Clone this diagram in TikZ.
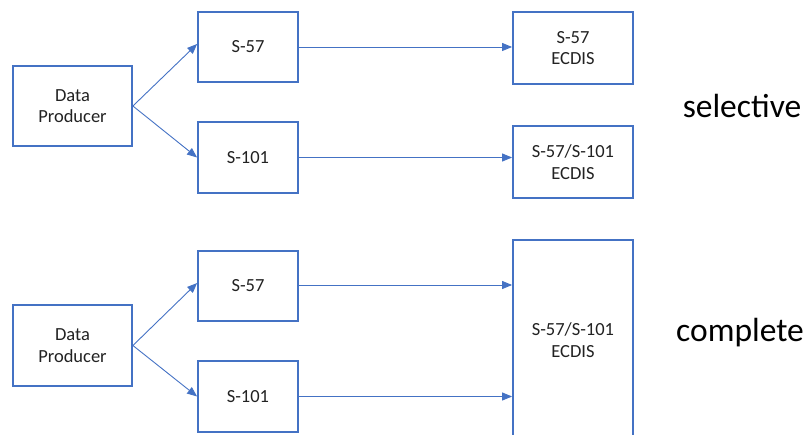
\documentclass[tikz,border=0pt]{standalone}
\usepackage{fontspec}
\setmainfont{Carlito}
\usetikzlibrary{arrows.meta}
\definecolor{obl}{HTML}{4472C4}
\definecolor{txt}{HTML}{222222}
\begin{document}
\begin{tikzpicture}[x=1pt,y=-1pt,
  box/.style={draw=obl,line width=1.8pt,fill=white,align=center,inner sep=0pt,
    text=txt,font=\fontsize{18.5}{21.5}\selectfont},
  conn/.style={draw=obl,line width=0.9pt,-{Triangle[length=10pt,width=8pt]}},
  lbl/.style={text=black,font=\fontsize{33.5}{36}\selectfont,inner sep=0pt}]
\useasboundingbox (0,0) rectangle (808,435);
\clip (0,0) rectangle (808,435);
% selective
\node[box,minimum width=119pt,minimum height=80pt] (dp1) at (72.5,106) {Data\\Producer};
\node[box,minimum width=100pt,minimum height=70pt] (s57a) at (248,47) {S-57};
\node[box,minimum width=100pt,minimum height=71pt] (s101a) at (248,157.5) {S-101};
\node[box,minimum width=120pt,minimum height=72pt] (e1) at (573,48) {S-57\\ECDIS};
\node[box,minimum width=120pt,minimum height=72pt] (e2) at (573,162) {S-57/S-101\\ECDIS};
\node[lbl] (sel) at (742,106) {selective};
\draw[conn] (dp1.east) -- ([yshift=3pt]s57a.west);
\draw[conn] (dp1.east) -- (s101a.west);
\draw[conn] (s57a.east) -- (s57a.east -| e1.west);
\draw[conn] (s101a.east) -- (s101a.east -| e2.west);
% complete
\node[box,minimum width=119pt,minimum height=81pt] (dp2) at (72.5,345.5) {Data\\Producer};
\node[box,minimum width=100pt,minimum height=70pt] (s57b) at (248,286) {S-57};
\node[box,minimum width=100pt,minimum height=71pt] (s101b) at (248,396.5) {S-101};
\node[box,minimum width=120pt,minimum height=210pt] (e3) at (573,345) {};
\node[text=txt,font=\fontsize{18.5}{21.5}\selectfont,align=center,inner sep=0pt] (e3t) at (573,340) {S-57/S-101\\ECDIS};
\node[lbl] (com) at (740,333) {complete};
\draw[conn] (dp2.east) -- ([yshift=3pt]s57b.west);
\draw[conn] (dp2.east) -- (s101b.west);
\draw[conn] ([yshift=1pt]s57b.east) -- ([yshift=1pt]s57b.east -| e3.west);
\draw[conn] (s101b.east) -- (s101b.east -| e3.west);
\end{tikzpicture}
\end{document}
